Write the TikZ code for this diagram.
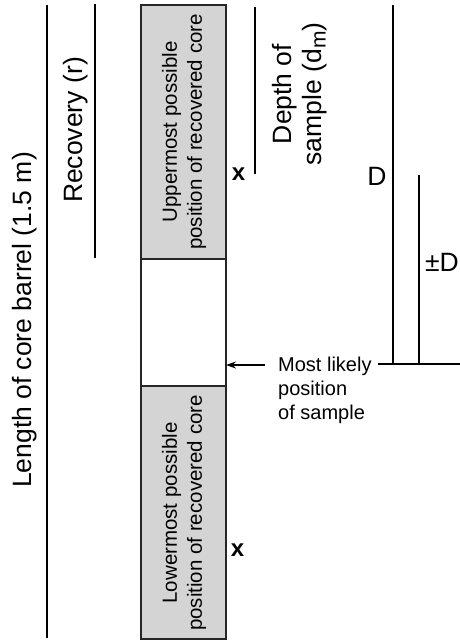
\documentclass[tikz,border=0pt]{standalone}
\usepackage{fontspec}
\setmainfont{Liberation Sans}
\usetikzlibrary{arrows.meta}
\definecolor{coregrey}{HTML}{D4D4D4}
\tikzset{
  rule/.style={line width=1.3pt, black},
  corebox/.style={line width=1.5pt, draw=black!85},
  biglabel/.style={font=\fontsize{26.5}{30}\selectfont, inner sep=0pt},
  boxlabel/.style={font=\fontsize{20.5}{25}\selectfont, align=center, inner sep=0pt, rotate=90},
  xmark/.style={font=\bfseries\fontsize{24}{24}\selectfont, inner sep=0pt},
  smalllabel/.style={font=\fontsize{20}{24}\selectfont, align=left, inner sep=0pt}
}
\newcommand{\lowsub}[1]{\raisebox{-0.3ex}{\fontsize{21}{21}\selectfont #1}}
\begin{document}
\begin{tikzpicture}[x=1pt,y=-1pt]
\useasboundingbox (0,0) rectangle (460,641);
% core box
\draw[corebox, fill=coregrey] (141,5) rectangle (226,259);
\draw[corebox, fill=white] (141,259) rectangle (226,386);
\draw[corebox, fill=coregrey] (141,386) rectangle (226,639);
\coordinate (boxE) at (226,365);
\node[boxlabel] (up) at (184,132) {Uppermost possible\\position of recovered core};
\node[boxlabel] (low) at (184,513) {Lowermost possible\\position of recovered core};
% x marks
\node[xmark] (x1) at (238.5,174.5) {x};
\node[xmark] (x2) at (237.5,550) {x};
% left lines
\coordinate (lcbT) at (47,5);
\coordinate (lcbB) at (47,638);
\draw[rule] (lcbT) -- (lcbB);
\node[biglabel, rotate=90] (lcb) at (25,320) {Length of core barrel (1.5 m)};
\coordinate (recT) at (95,4);
\coordinate (recB) at (95,258);
\draw[rule] (recT) -- (recB);
\node[biglabel, rotate=90] (rec) at (76,130) {Recovery (r)};
% depth of sample
\coordinate (dsT) at (255,7);
\coordinate (dsB) at (255,174);
\draw[rule] (dsT) -- (dsB);
\node[biglabel, rotate=90, align=center] (ds) at (299.5,94) {Depth of\\sample (d\lowsub{m})};
% D and +-D
\coordinate (DT) at (393,5);
\coordinate (DB) at (393,364);
\draw[rule] (DT) -- (DB);
\node[biglabel] (Dl) at (377,176.5) {D};
\coordinate (pDT) at (419,175);
\coordinate (pDB) at (419,364);
\draw[rule] (pDT) -- (pDB);
\node[biglabel] (pDl) at (442,262) {±D};
\coordinate (hL) at (378,364);
\coordinate (hR) at (460,364);
\draw[rule] (hL) -- (hR);
% most likely
\node[smalllabel, anchor=north west] (ml) at (278,357) {Most likely\\position\\of sample};
\coordinate (arrS) at (265,365);
\draw[rule, line width=1.2pt, -{Stealth[length=10pt,width=7pt]}] (arrS) -- (boxE);
\end{tikzpicture}
\end{document}
